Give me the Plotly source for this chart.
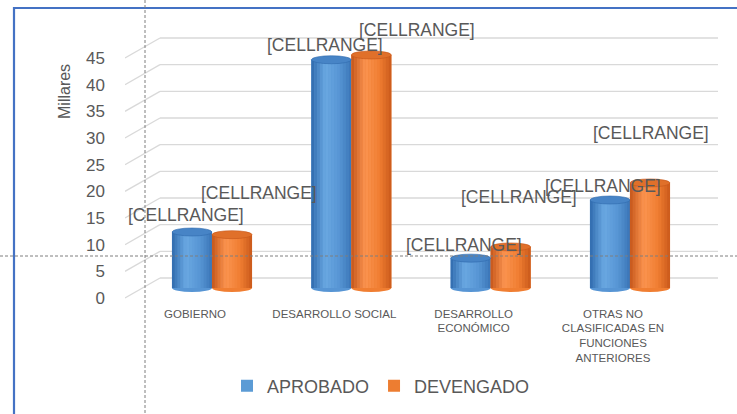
import plotly.graph_objects as go

# ---------------- data ----------------
categories = ["GOBIERNO", "DESARROLLO SOCIAL", "DESARROLLO<br>ECONÓMICO",
              "OTRAS NO<br>CLASIFICADAS EN<br>FUNCIONES<br>ANTERIORES"]
aprobado = [10.5, 42.8, 5.6, 16.5]
devengado = [10.0, 43.7, 7.7, 19.7]
y_ticks = [0, 5, 10, 15, 20, 25, 30, 35, 40, 45]
label_text = "[CELLRANGE]"

# ---------------- layout geometry (pixels) ----------------
FIG_W, FIG_H = 737, 414
PL, PR, PT, PB = 125, 718, 30, 300          # plot area
PW, PH = PR - PL, PB - PT
X0_PX, X_STEP = 212.0, 139.33               # category centre / spacing
Y0_PX, Y_STEP = 288.0, 5.333                # value 0 / px per unit
xr = [(PL - X0_PX) / X_STEP, (PR - X0_PX) / X_STEP]
yr = [(Y0_PX - PB) / Y_STEP, (Y0_PX - PT) / Y_STEP]
DEPTH_Y = 10 / Y_STEP                       # half depth (units)
BACK_X = (160 - X0_PX) / X_STEP
BAR_W = 40 / X_STEP
OFFS = [-BAR_W / 2, BAR_W / 2]
ELL_H = 8 / Y_STEP

def px_x(px):
    return (px - PL) / PW

def px_y(py):
    return (PB - py) / PH

TXT = "#595959"
FONT = "Liberation Sans"

series = [
    dict(name="APROBADO", vals=aprobado, base="#5b9bd5",
         prof=["#2f6aad", "#6aa8e2", "#5795d4", "#3a74b6"], top="#4784c6"),
    dict(name="DEVENGADO", vals=devengado, base="#ed7d31",
         prof=["#c4561a", "#fb9450", "#f07e32", "#c9581a"], top="#e0702a"),
]

def hex2rgb(h):
    h = h.lstrip("#")
    return [int(h[i:i + 2], 16) for i in (0, 2, 4)]

def lerp(c1, c2, t):
    a, b = hex2rgb(c1), hex2rgb(c2)
    return "rgb(%d,%d,%d)" % tuple(round(a[i] + (b[i] - a[i]) * t) for i in range(3))

def shade(prof, t):
    stops = [0.0, 0.35, 0.7, 1.0]
    for k in range(3):
        if t <= stops[k + 1]:
            return lerp(prof[k], prof[k + 1], (t - stops[k]) / (stops[k + 1] - stops[k]))
    return prof[-1]

fig = go.Figure()
shapes = []

# 3D style gridlines (front diagonal + back wall)
for v in y_ticks:
    shapes.append(dict(type="line", xref="x", yref="y", x0=xr[0], y0=v - DEPTH_Y,
                       x1=BACK_X, y1=v + DEPTH_Y, line=dict(color="#d9d9d9", width=1.3),
                       layer="below"))
    shapes.append(dict(type="line", xref="x", yref="y", x0=BACK_X, y0=v + DEPTH_Y,
                       x1=xr[1], y1=v + DEPTH_Y, line=dict(color="#d9d9d9", width=1.3),
                       layer="below"))

N = 14
annotations = []
label_shift = [[(-6, 17), (27, 42)], [(-6, 15), (46, 25)], [(-7, 13), (8, 50)], [(-7, 14), (1, 50)]]

for si, s in enumerate(series):
    xs = [i + OFFS[si] for i in range(len(categories))]
    fig.add_trace(go.Bar(x=xs, y=s["vals"], width=BAR_W, name=s["name"],
                         marker=dict(color=s["base"], line=dict(width=0)),
                         hoverinfo="skip"))
    for k in range(N):
        t = (k + 0.5) / N
        fig.add_trace(go.Bar(x=[x - BAR_W / 2 + t * BAR_W for x in xs], y=s["vals"],
                             width=BAR_W / N * 1.05, showlegend=False,
                             marker=dict(color=shade(s["prof"], t), line=dict(width=0)),
                             hoverinfo="skip"))
    for i, (x, v) in enumerate(zip(xs, s["vals"])):
        # bottom rounding
        shapes.append(dict(type="circle", xref="x", yref="y", x0=x - BAR_W / 2, x1=x + BAR_W / 2,
                           y0=-ELL_H / 2, y1=ELL_H / 2, fillcolor=s["prof"][2],
                           line=dict(width=0), layer="below"))
        # top face
        shapes.append(dict(type="circle", xref="x", yref="y", x0=x - BAR_W / 2, x1=x + BAR_W / 2,
                           y0=v - ELL_H / 2, y1=v + ELL_H / 2, fillcolor=s["top"],
                           line=dict(width=0.6, color=s["prof"][0]), layer="above"))
        dx, dy = label_shift[i][si]
        annotations.append(dict(x=x, y=v, xref="x", yref="y", text=label_text, showarrow=False,
                                xshift=dx, yshift=dy, font=dict(size=17.5, color=TXT, family=FONT)))

# axis title
annotations.append(dict(x=px_x(64), y=px_y(92), xref="paper", yref="paper", text="Millares",
                        textangle=-90, showarrow=False, xanchor="center", yanchor="middle",
                        font=dict(size=16, color=TXT, family=FONT)))

# border and dashed guide lines
shapes.append(dict(type="rect", xref="paper", yref="paper", x0=px_x(14), y0=px_y(8),
                   x1=px_x(760), y1=px_y(440), line=dict(color="#4472c4", width=2.2),
                   fillcolor="rgba(0,0,0,0)", layer="above"))
shapes.append(dict(type="line", xref="paper", yref="paper", x0=px_x(145), x1=px_x(145),
                   y0=px_y(-5), y1=px_y(420), line=dict(color="#7f7f7f", width=1, dash="3px,2px"),
                   layer="above"))
shapes.append(dict(type="line", xref="paper", yref="paper", x0=px_x(-5), x1=px_x(745),
                   y0=px_y(256), y1=px_y(256), line=dict(color="#7f7f7f", width=1, dash="3px,2px"),
                   layer="above"))

fig.update_layout(
    width=FIG_W, height=FIG_H,
    margin=dict(l=PL, r=FIG_W - PR, t=PT, b=FIG_H - PB, autoexpand=False),
    paper_bgcolor="white", plot_bgcolor="white",
    barmode="overlay",
    showlegend=True,
    legend=dict(orientation="h", x=px_x(381), y=px_y(386), xanchor="center", yanchor="middle",
                font=dict(size=18, color=TXT, family=FONT), bgcolor="rgba(0,0,0,0)"),
    xaxis=dict(range=xr, tickvals=list(range(len(categories))), ticktext=categories,
               showgrid=False, zeroline=False, showline=False, ticks="",
               tickfont=dict(size=11.5, color=TXT, family=FONT), ticklabelshift=-17,
               ticklabelstandoff=5),
    yaxis=dict(range=yr, tickvals=y_ticks, showgrid=False, zeroline=False, showline=False,
               ticks="", tickfont=dict(size=17, color=TXT, family=FONT),
               ticklabelshift=10, ticklabelstandoff=19),
    shapes=shapes, annotations=annotations,
    font=dict(family=FONT, color=TXT),
)

fig.write_html("out.html", config={"displayModeBar": False},
               post_script="document.body.style.margin='0';")
